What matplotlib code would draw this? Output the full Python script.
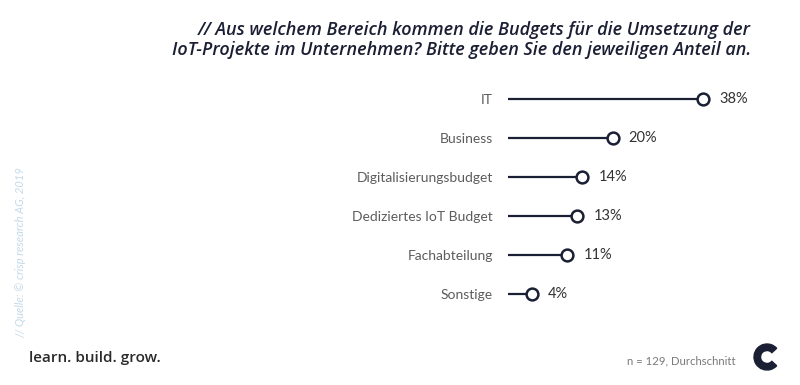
import matplotlib
matplotlib.use("Agg")
import matplotlib.pyplot as plt
from matplotlib.patches import Wedge

categories = ["IT", "Business", "Digitalisierungsbudget", "Dediziertes IoT Budget",
              "Fachabteilung", "Sonstige"]
values = [38, 20, 14, 13, 11, 4]
value_labels = ["38%", "20%", "14%", "13%", "11%", "4%"]

title = ("// Aus welchem Bereich kommen die Budgets für die Umsetzung der\n"
         "IoT-Projekte im Unternehmen? Bitte geben Sie den jeweiligen Anteil an.")
source = "// Quelle: © crisp research AG, 2019"
note = "n = 129, Durchschnitt"
slogan = "learn. build. grow."

navy = "#1b1f33"
fig = plt.figure(figsize=(8, 3.85), dpi=100)
fig.patch.set_facecolor("white")

ax = fig.add_axes([0.635, 0.1857, 0.315, 0.6078])
ypos = list(range(len(categories)))
for y, v, lab in zip(ypos, values, value_labels):
    ax.plot([-0.8, v], [y, y], color=navy, lw=1.6, solid_capstyle="butt", zorder=2)
    ax.plot(v, y, "o", ms=8.5, mfc="white", mec=navy, mew=1.8, zorder=3)
    ax.text(v + 3.2, y, lab, va="center", ha="left", fontsize=10.5,
            family="Lato", color="#333333")

ax.set_xlim(-0.8, 49.3)
ax.set_ylim(5.5, -0.5)
ax.set_yticks(ypos)
ax.set_yticklabels(categories, fontsize=10, family="Lato", color="#5c5c5c")
ax.tick_params(axis="y", length=0, pad=11)
ax.set_xticks([])
for s in ax.spines.values():
    s.set_visible(False)

fig.text(0.939, 0.897, title, ha="right", va="center", fontsize=13,
         style="italic", color=navy, linespacing=1.15, family="Open Sans",
         weight="semibold")
fig.text(0.026, 0.345, source, rotation=90, ha="center", va="center",
         fontsize=8, style="italic", color="#c3d9ea", family="Lato")
fig.text(0.036, 0.07, slogan, ha="left", va="center", fontsize=11,
         color="#2a2a2a", family="Open Sans", weight="semibold")
fig.text(0.92, 0.063, note, ha="right", va="center", fontsize=8.2,
         color="#7a7a7a", family="Lato")

# logo
lax = fig.add_axes([0, 0, 1, 1], facecolor="none")
lax.set_xlim(0, 800)
lax.set_ylim(0, 385)
lax.axis("off")
cx, cy = 767, 28
for a0, a1 in [(42, 100), (103, 172), (175, 250), (253, 318)]:
    lax.add_patch(Wedge((cx, cy), 13, a0, a1, width=6.5, color=navy))

fig.savefig("out.png", dpi=100)
